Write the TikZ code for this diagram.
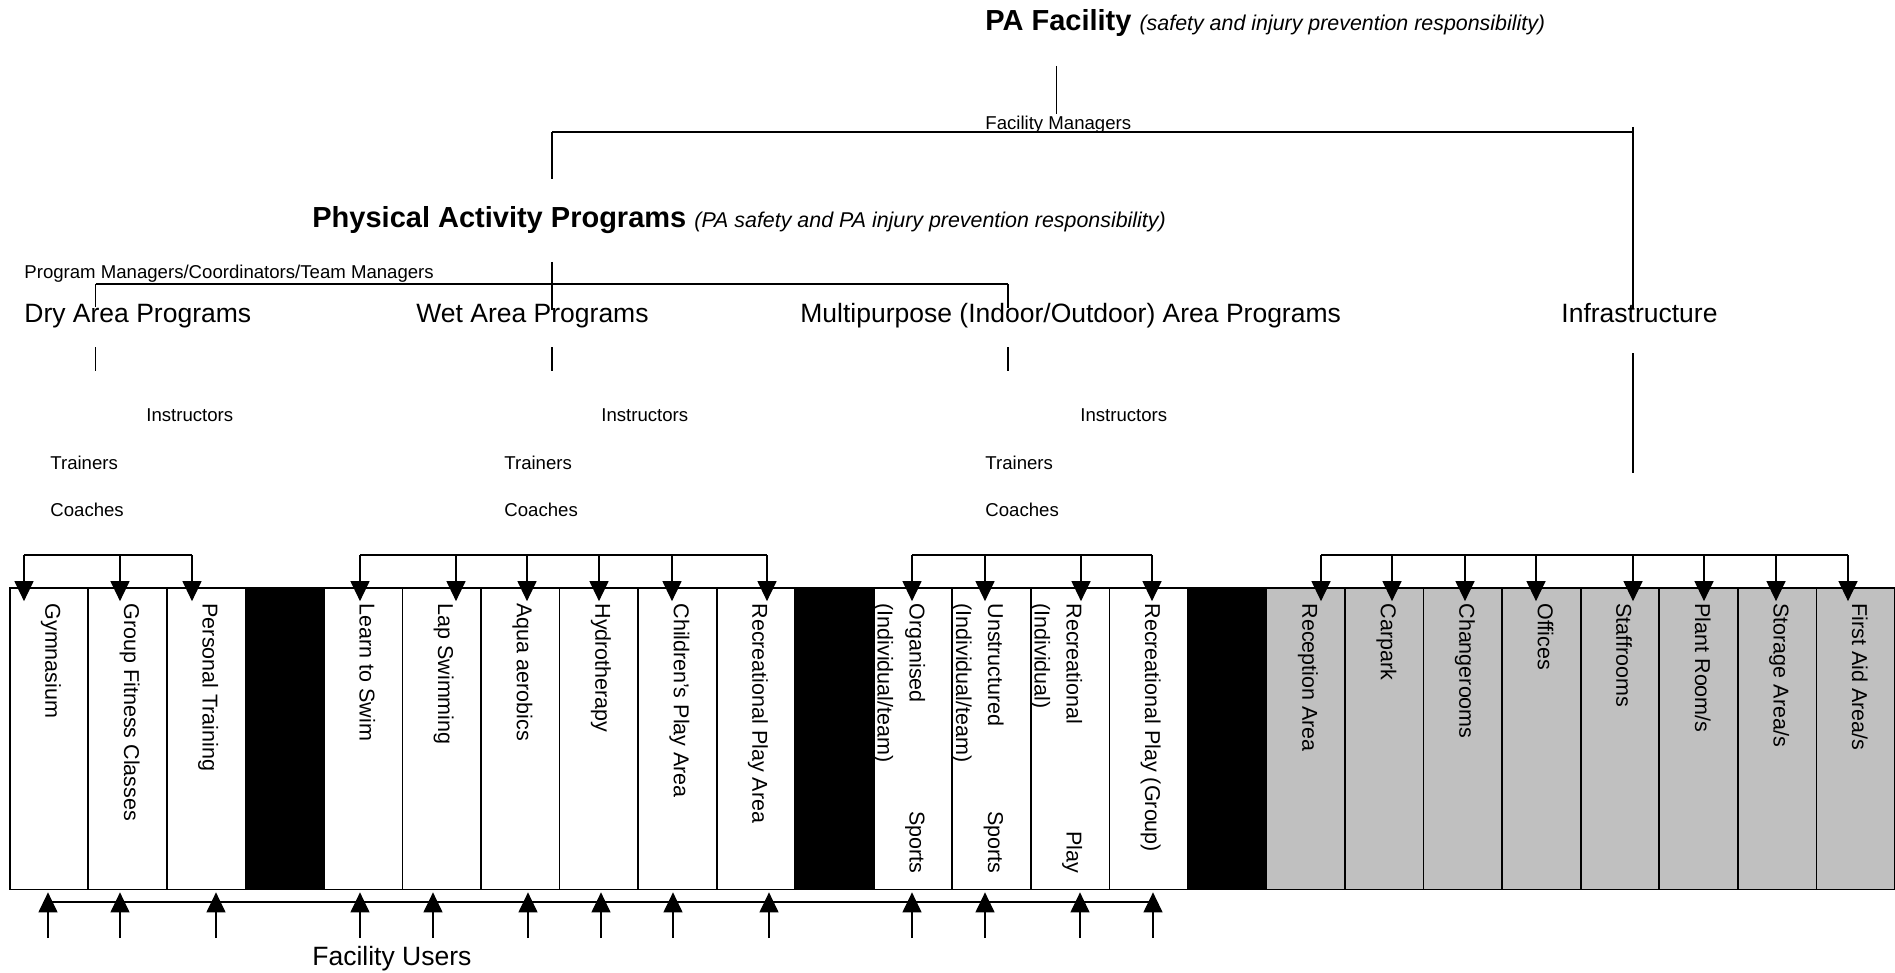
\documentclass[tikz,border=0pt]{standalone}
\usepackage{fontspec}
\setmainfont{Liberation Sans}
\usetikzlibrary{arrows.meta}
\usetikzlibrary{positioning}
\usetikzlibrary{calc}
\definecolor{infragrey}{RGB}{192,192,192}
\tikzset{
    >={Triangle[length=10pt,width=9.5pt]},
    pline/.style={draw=black, line width=0.6pt},
    pbar/.style={draw=black, line width=0.85pt},
    feedarrow/.style={draw=black, line width=0.6pt, ->, shorten >=-7pt},
    userarrow/.style={draw=black, line width=0.6pt, ->, shorten >=1pt},
    colbox/.style={draw=black, line width=0.85pt, minimum width=39.275pt,
        minimum height=150.75pt, inner sep=0pt},
    gapbox/.style={colbox, fill=black},
    infrabox/.style={colbox, fill=infragrey},
    coltext/.style={rotate=-90, anchor=base west, inner sep=0pt,
        font=\fontsize{10.75pt}{12pt}\selectfont},
    colend/.style={coltext, anchor=base east},
    areatext/.style={anchor=base west, inner sep=0pt,
        font=\fontsize{13.25pt}{15pt}\selectfont},
    stafftext/.style={anchor=base west, inner sep=0pt,
        font=\fontsize{9.3pt}{11pt}\selectfont},
    headtext/.style={anchor=base west, inner sep=0pt,
        font=\fontsize{14.5pt}{17pt}\selectfont\bfseries},
}
\newcommand{\noteit}{\fontsize{10.7pt}{12pt}\selectfont\mdseries\itshape}

\begin{document}
\begin{tikzpicture}[x=0.5pt, y=-0.5pt]
\useasboundingbox (0,0) rectangle (1895,973);
% headings
\node[headtext] (pafac) at (985,31) {PA Facility {\noteit(safety and injury prevention responsibility)}};
\node[stafftext] (fmgr) at (985,130) {Facility Managers};
\node[headtext] (pap) at (312,228) {Physical Activity Programs {\noteit(PA safety and PA injury prevention responsibility)}};
\node[stafftext] (pmgr) at (24,278.5) {Program Managers/Coordinators/Team Managers};
\node[areatext] (dryarea) at (24,322) {Dry Area Programs};
\node[areatext] (wetarea) at (416,322) {Wet Area Programs};
\node[areatext] (multiarea) at (800,322) {Multipurpose (Indoor/Outdoor) Area Programs};
\node[areatext] (infra) at (1561,322) {Infrastructure};
\foreach \x/\n in {146/d,601/w,1080/m} \node[stafftext] (instr-\n) at (\x,421) {Instructors};
\foreach \x/\n in {50/d,504/w,985/m} {
    \node[stafftext] (train-\n) at (\x,469.5) {Trainers};
    \node[stafftext] (coach-\n) at (\x,516.5) {Coaches};
}
\node[areatext] (users) at (312,965) {Facility Users};

% management lines
\coordinate (pa-a) at (1056.7,66);
\coordinate (pa-b) at (1056.7,114);
\coordinate (fb-l) at (552,132);
\coordinate (fb-r) at (1633,132);
\coordinate (pap-b) at (552,179);
\coordinate (inf-a) at (1633,127);
\coordinate (inf-b) at (1633,308);
\coordinate (pm-a) at (552,262);
\coordinate (pm-b) at (552,310);
\coordinate (pb-l) at (95.7,284);
\coordinate (pb-r) at (1008,284);
\coordinate (dry-b) at (95.7,307);
\coordinate (mul-b) at (1008,308);
\draw[pline] (pa-a) -- (pa-b);
\draw[pline] (fb-l) -- (fb-r);
\draw[pline] (fb-l) -- (pap-b);
\draw[pline] (inf-a) -- (inf-b);
\draw[pline] (pm-a) -- (pm-b);
\draw[pline] (pb-l) -- (pb-r);
\draw[pline] (pb-l) -- (dry-b);
\draw[pline] (pb-r) -- (mul-b);
\foreach \x/\n/\a/\b in {95.7/dry/347/371,552/wet/347/371,1008/mul/347/371,1633/inf/353/473} {
    \coordinate (\n-c) at (\x,\a);
    \coordinate (\n-d) at (\x,\b);
    \draw[pline] (\n-c) -- (\n-d);
}

% columns
\foreach \k/\s in {0/colbox,1/colbox,2/colbox,3/gapbox,4/colbox,5/colbox,6/colbox,
    7/colbox,8/colbox,9/colbox,10/gapbox,11/colbox,12/colbox,13/colbox,14/colbox,
    15/gapbox,16/infrabox,17/infrabox,18/infrabox,19/infrabox,20/infrabox,
    21/infrabox,22/infrabox,23/infrabox}
    \node[\s] (c\k) at ({9.7+78.55*(\k+0.5)},738.75) {};
\foreach \k/\txt in {0/Gymnasium,1/Group Fitness Classes,2/Personal Training,
    4/Learn to Swim,5/Lap Swimming,6/Aqua aerobics,7/Hydrotherapy,
    8/Children’s Play Area,9/Recreational Play Area,14/Recreational Play (Group),
    16/Reception Area,17/Carpark,18/Changerooms,19/Offices,20/Staffrooms,
    21/{Plant Room/s},22/{Storage Area/s},23/{First Aid Area/s}}
    \node[coltext] (t\k) at ([xshift=-1.75pt,yshift=-8pt]c\k.north) {\txt};
\node[coltext] (t11) at ([xshift=-1.75pt,yshift=-8pt]c11.north) {Organised};
\node[coltext] (t11b) at ([xshift=-17.75pt,yshift=-8pt]c11.north) {(Individual/team)};
\node[colend] (t11c) at ([xshift=-1.75pt,yshift=8.25pt]c11.south) {Sports};
\node[coltext] (t12) at ([xshift=-1.75pt,yshift=-8pt]c12.north) {Unstructured};
\node[coltext] (t12b) at ([xshift=-17.75pt,yshift=-8pt]c12.north) {(Individual/team)};
\node[colend] (t12c) at ([xshift=-1.75pt,yshift=8.25pt]c12.south) {Sports};
\node[coltext] (t13) at ([xshift=-1.75pt,yshift=-8pt]c13.north) {Recreational};
\node[coltext] (t13b) at ([xshift=-17.75pt,yshift=-8pt]c13.north) {(Individual)};
\node[colend] (t13c) at ([xshift=-1.75pt,yshift=8.25pt]c13.south) {Play};

% arrows into the areas
\foreach \x/\k in {24/0,120/1,192/2,360/4,456/5,527/6,599/7,672/8,767/9,
    912/11,985/12,1081/13,1152/14,1321/16,1392/17,1465/18,1536/19,1633/20,
    1704/21,1776/22,1848/23} {
    \coordinate (dn\k) at (\x,555);
    \draw[feedarrow] (dn\k) -- (dn\k |- c\k.north);
}
\draw[pbar] (dn0) -- (dn2);
\draw[pbar] (dn4) -- (dn9);
\draw[pbar] (dn11) -- (dn14);
\draw[pbar] (dn16) -- (dn23);

% facility users
\coordinate (ub-l) at (48,902);
\coordinate (ub-r) at (1153,902);
\draw[pbar] (ub-l) -- (ub-r);
\foreach \x/\k in {48/0,120/1,216/2,360/4,433/5,528/6,601/7,673/8,769/9,
    912/11,985/12,1080/13,1153/14} {
    \coordinate (up\k) at (\x,938);
    \draw[userarrow] (up\k) -- (up\k |- c\k.south);
}
\end{tikzpicture}
\end{document}
